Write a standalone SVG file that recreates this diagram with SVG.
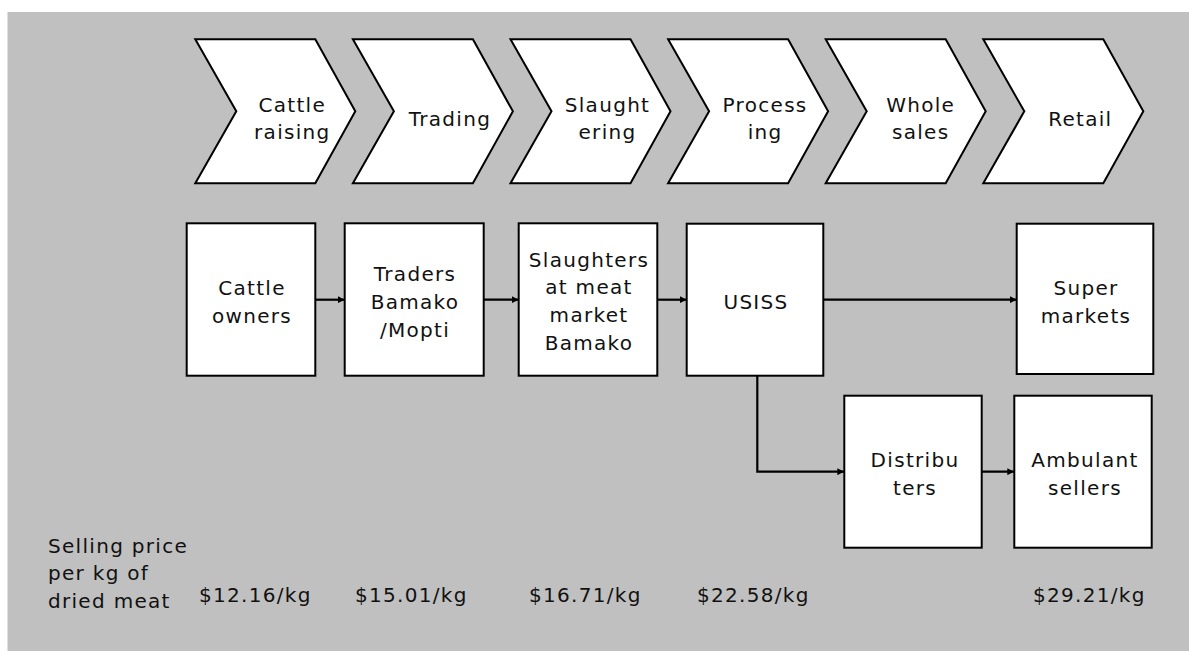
<svg xmlns="http://www.w3.org/2000/svg" width="1189" height="651" viewBox="0 0 1189 651">
<defs>
<style>
.bg{fill:#c0c0c0}
.shape{fill:#ffffff;stroke:#000000;stroke-width:2}
.t{font-family:"DejaVu Sans",Verdana,sans-serif;font-size:20px;fill:#111111;letter-spacing:1.3px}
.c{text-anchor:middle}
.conn{fill:none;stroke:#000000;stroke-width:2.2}
</style>
<marker id="ah" viewBox="0 0 10 10" refX="10" refY="5" markerWidth="7" markerHeight="7" markerUnits="userSpaceOnUse" orient="auto">
<path d="M0,0 L10,5 L0,10 Z" fill="#000000"/>
</marker>
<path id="chev" d="M0,39.3 H120 L160,111.3 L120,183.3 H0 L41,111.3 Z"/>
</defs>
<rect class="bg" x="7.5" y="12" width="1181.5" height="639"/>

<g id="stage-cattle-raising" transform="translate(195.3,0)">
<use href="#chev" class="shape"/>
<text class="t c" x="97" y="112">Cattle</text>
<text class="t c" x="97" y="139">raising</text>
</g>
<g id="stage-trading" transform="translate(352.9,0)">
<use href="#chev" class="shape"/>
<text class="t c" x="97" y="125.5">Trading</text>
</g>
<g id="stage-slaughtering" transform="translate(510.5,0)">
<use href="#chev" class="shape"/>
<text class="t c" x="97" y="112">Slaught</text>
<text class="t c" x="97" y="139">ering</text>
</g>
<g id="stage-processing" transform="translate(668.1,0)">
<use href="#chev" class="shape"/>
<text class="t c" x="97" y="112">Process</text>
<text class="t c" x="97" y="139">ing</text>
</g>
<g id="stage-wholesales" transform="translate(825.7,0)">
<use href="#chev" class="shape"/>
<text class="t c" x="95" y="112">Whole</text>
<text class="t c" x="95" y="139">sales</text>
</g>
<g id="stage-retail" transform="translate(983.3,0)">
<use href="#chev" class="shape"/>
<text class="t c" x="97" y="125.5">Retail</text>
</g>

<g id="connectors">
<line class="conn" x1="315.3" y1="299.7" x2="344.7" y2="299.7" marker-end="url(#ah)"/>
<line class="conn" x1="483.7" y1="299.7" x2="518.7" y2="299.7" marker-end="url(#ah)"/>
<line class="conn" x1="657.3" y1="299.7" x2="686.7" y2="299.7" marker-end="url(#ah)"/>
<line class="conn" x1="823.3" y1="299.7" x2="1016.7" y2="299.7" marker-end="url(#ah)"/>
<polyline class="conn" points="757.3,375.7 757.3,471.7 844.3,471.7" marker-end="url(#ah)"/>
<line class="conn" x1="981.7" y1="471.7" x2="1014.3" y2="471.7" marker-end="url(#ah)"/>
</g>

<g id="node-cattle-owners">
<rect class="shape" x="186.7" y="223.3" width="128.6" height="152.4"/>
<text class="t c" x="252" y="295">Cattle</text>
<text class="t c" x="252" y="322.5">owners</text>
</g>
<g id="node-traders">
<rect class="shape" x="344.7" y="223.3" width="139" height="152.4"/>
<text class="t c" x="415" y="281">Traders</text>
<text class="t c" x="415" y="309">Bamako</text>
<text class="t c" x="415" y="336.7">/Mopti</text>
</g>
<g id="node-slaughters">
<rect class="shape" x="518.7" y="223.3" width="138.6" height="152.4"/>
<text class="t c" x="589" y="266.7">Slaughters</text>
<text class="t c" x="589" y="294.3">at meat</text>
<text class="t c" x="589" y="322.3">market</text>
<text class="t c" x="589" y="350">Bamako</text>
</g>
<g id="node-usiss">
<rect class="shape" x="686.7" y="223.7" width="136.6" height="152"/>
<text class="t c" x="756" y="309">USISS</text>
</g>
<g id="node-supermarkets">
<rect class="shape" x="1016.7" y="223.7" width="136.6" height="150.3"/>
<text class="t c" x="1086" y="295">Super</text>
<text class="t c" x="1086" y="322.7">markets</text>
</g>
<g id="node-distributers">
<rect class="shape" x="844.3" y="395.7" width="137.4" height="152"/>
<text class="t c" x="915" y="466.7">Distribu</text>
<text class="t c" x="915" y="495">ters</text>
</g>
<g id="node-ambulant-sellers">
<rect class="shape" x="1014.3" y="395.7" width="137.4" height="152"/>
<text class="t c" x="1085" y="466.7">Ambulant</text>
<text class="t c" x="1085" y="495">sellers</text>
</g>

<g id="prices">
<text class="t" x="48" y="553">Selling price</text>
<text class="t" x="48" y="580">per kg of</text>
<text class="t" x="48" y="608">dried meat</text>
<text class="t" x="199" y="601.5">$12.16/kg</text>
<text class="t" x="355" y="601.5">$15.01/kg</text>
<text class="t" x="529" y="601.5">$16.71/kg</text>
<text class="t" x="697" y="601.5">$22.58/kg</text>
<text class="t" x="1033" y="601.5">$29.21/kg</text>
</g>
</svg>
